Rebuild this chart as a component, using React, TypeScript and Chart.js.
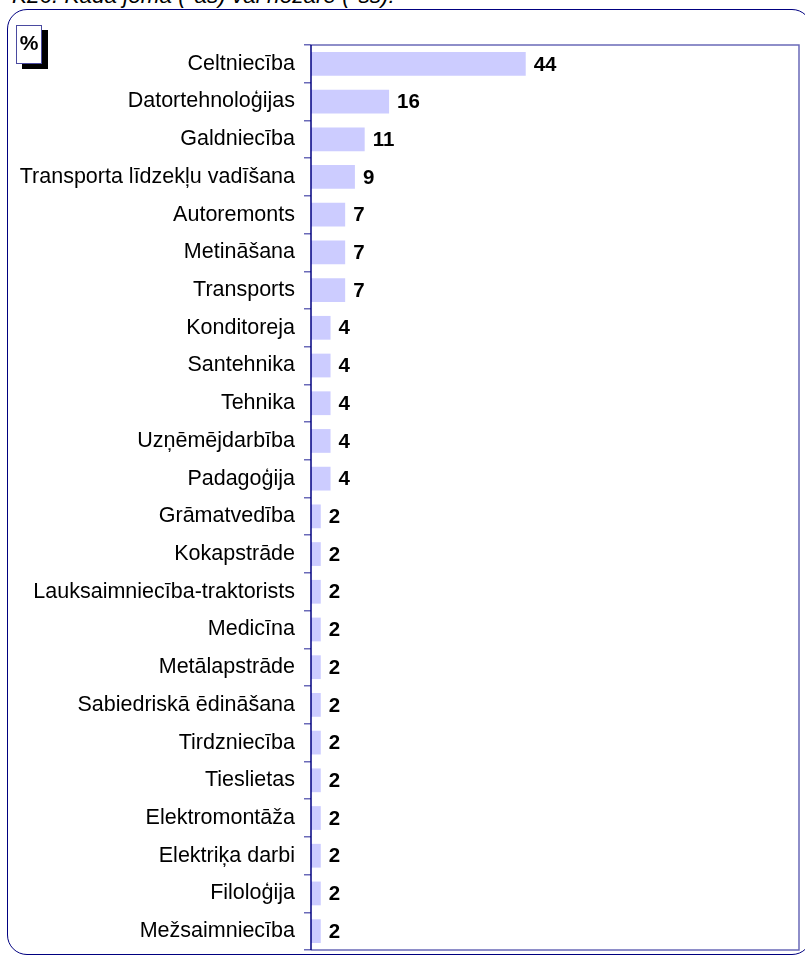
import React, { useEffect, useRef } from "react";
import { Chart, registerables } from "chart.js";

Chart.register(...registerables);

const categories = [
  "Celtniecība",
  "Datortehnoloģijas",
  "Galdniecība",
  "Transporta līdzekļu vadīšana",
  "Autoremonts",
  "Metināšana",
  "Transports",
  "Konditoreja",
  "Santehnika",
  "Tehnika",
  "Uzņēmējdarbība",
  "Padagoģija",
  "Grāmatvedība",
  "Kokapstrāde",
  "Lauksaimniecība-traktorists",
  "Medicīna",
  "Metālapstrāde",
  "Sabiedriskā ēdināšana",
  "Tirdzniecība",
  "Tieslietas",
  "Elektromontāža",
  "Elektriķa darbi",
  "Filoloģija",
  "Mežsaimniecība",
];

const values = [44, 16, 11, 9, 7, 7, 7, 4, 4, 4, 4, 4, 2, 2, 2, 2, 2, 2, 2, 2, 2, 2, 2, 2];

const titleText = "K26. Kādā jomā (*as) vai nozarē (*ss):";
const unitLabel = "%";

const valueLabels = {
  id: "valueLabels",
  afterDatasetsDraw(chart: any) {
    const ctx = chart.ctx;
    const meta = chart.getDatasetMeta(0);
    ctx.save();
    ctx.font = "bold 20.5px 'Liberation Sans', Arial, sans-serif";
    ctx.fillStyle = "#000";
    ctx.textAlign = "left";
    ctx.textBaseline = "middle";
    meta.data.forEach((bar: any, i: number) => {
      ctx.fillText(String(values[i]), bar.x + 8, bar.y + 1);
    });
    ctx.restore();
  },
};

const plotBorder = {
  id: "plotBorder",
  afterDraw(chart: any) {
    const { ctx, chartArea } = chart;
    ctx.save();
    ctx.strokeStyle = "#6a6ab8";
    ctx.lineWidth = 1.5;
    ctx.beginPath();
    ctx.moveTo(chartArea.left, chartArea.top);
    ctx.lineTo(chartArea.right, chartArea.top);
    ctx.lineTo(chartArea.right, chartArea.bottom);
    ctx.lineTo(chartArea.left, chartArea.bottom);
    ctx.stroke();
    ctx.strokeStyle = "#000080";
    ctx.beginPath();
    ctx.moveTo(chartArea.left, chartArea.top);
    ctx.lineTo(chartArea.left, chartArea.bottom);
    ctx.stroke();
    ctx.restore();
  },
};

export default function App() {
  const ref = useRef<HTMLCanvasElement | null>(null);

  useEffect(() => {
    if (!ref.current) return;
    const chart = new Chart(ref.current, {
      type: "bar",
      data: {
        labels: categories,
        datasets: [
          {
            data: values,
            backgroundColor: "#ccccff",
            borderWidth: 0,
            categoryPercentage: 1,
            barPercentage: 0.63,
          },
        ],
      },
      options: {
        indexAxis: "y",
        animation: false,
        responsive: false,
        devicePixelRatio: 1,
        layout: { padding: { top: 45, right: 6, bottom: 8, left: 0 } },
        plugins: {
          legend: { display: false },
          tooltip: { enabled: false },
          title: { display: false },
        },
        scales: {
          x: { display: false, min: 0, max: 100 },
          y: {
            afterFit: (scale: any) => {
              scale.width = 311;
              scale.paddingTop = 0;
              scale.paddingBottom = 0;
            },
            grid: {
              display: true,
              drawOnChartArea: false,
              drawTicks: true,
              tickLength: 7,
              color: "#6a6ab8",
              lineWidth: 1.5,
              offset: true,
            },
            border: { display: false },
            ticks: {
              color: "#000",
              padding: 9,
              font: { family: "'Liberation Sans', Arial, sans-serif", size: 21.5 },
            },
          },
        },
      },
      plugins: [valueLabels, plotBorder],
    });
    return () => chart.destroy();
  }, []);

  return (
    <div style={{ position: "fixed", left: 0, top: 0, width: 805, height: 958, overflow: "hidden", background: "#fff" }}>
      <div
        style={{
          position: "absolute",
          left: 12,
          top: -15,
          font: "italic 22.5px/22px 'Liberation Sans', Arial, sans-serif",
          color: "#000",
          whiteSpace: "nowrap",
        }}
      >
        {titleText}
      </div>
      <div
        style={{
          position: "absolute",
          left: 7,
          top: 9,
          width: 805,
          height: 946,
          border: "1.5px solid #000080",
          borderRadius: 20,
          boxSizing: "border-box",
        }}
      />
      <canvas
        ref={ref}
        width={805}
        height={958}
        style={{ position: "absolute", left: 0, top: 0, width: 805, height: 958 }}
      />
      <div
        style={{
          position: "absolute",
          left: 16,
          top: 25,
          width: 26,
          height: 39,
          boxSizing: "border-box",
          border: "1px solid #4a4aa0",
          background: "#fff",
          boxShadow: "6px 5px 0 #000",
          font: "bold 21px/21px 'Liberation Sans', Arial, sans-serif",
          textAlign: "center",
          paddingTop: 6,
          color: "#000",
        }}
      >
        {unitLabel}
      </div>
    </div>
  );
}
